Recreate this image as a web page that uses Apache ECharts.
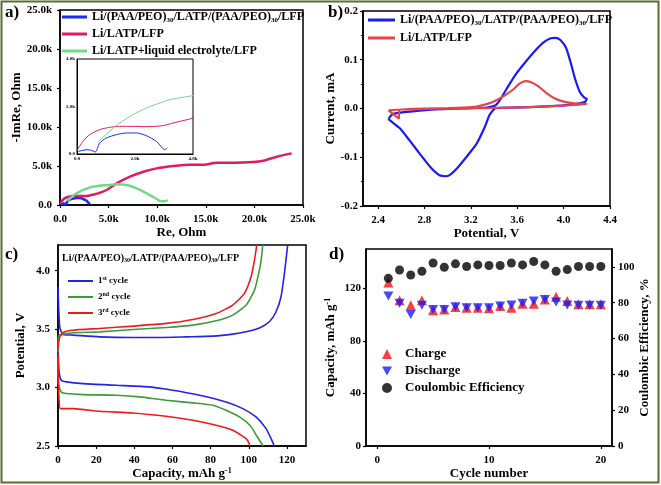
<!DOCTYPE html>
<html><head><meta charset="utf-8">
<script src="https://cdn.jsdelivr.net/npm/echarts@6/dist/echarts.min.js"></script>
<style>html,body{margin:0;padding:0;background:#fff}#c{width:661px;height:485px}</style>
</head><body><div id="c"></div><script>
// ---------- DATA ----------
// a) Nyquist plots [Re, -Im] in Ohm
const eisBlue = [[46,112],[207,154],[345,183],[494,154],[609,98],[640,90],[781,463],[1011,674],[1356,814],[1700,885],[2045,885],[2390,772],[2735,533],[2964,225],[3022,183],[3114,253]];
const eisRed = [[0,154],[207,533],[437,814],[781,1025],[1126,1123],[1471,1165],[1930,1165],[2390,1151],[2964,1193],[3309,1306],[3654,1404],[4000,1516],[4800,1921],[5831,2775],[7203,3630],[8575,4270],[9947,4697],[11662,4996],[13377,5167],[14749,5167],[16121,5423],[17836,5423],[19894,5508],[20923,5679],[22295,6192],[23839,6619]];
const eisGreen = [[747,533],[1126,955],[1471,1306],[1930,1657],[2390,1938],[2850,2148],[3194,2288],[3654,2387],[4000,2457],[4802,2540],[5831,2647],[6860,2562],[7889,2135],[8918,1494],[9947,769],[10290,512],[10805,480],[11079,640]];
const eisTicks = [0,5000,10000,15000,20000,25000];
const insetTicks = [0,2000,4000];
// b) CV [V, mA]
const cvBlue = [[2.49,-0.021],[2.53,-0.011],[2.70,-0.006],[2.90,-0.002],[3.13,0.000],[3.34,0.002],[3.41,0.006],[3.45,0.017],[3.51,0.041],[3.59,0.071],[3.68,0.098],[3.76,0.120],[3.83,0.136],[3.89,0.144],[3.93,0.145],[3.97,0.141],[4.02,0.125],[4.06,0.095],[4.10,0.060],[4.14,0.034],[4.18,0.022],[4.20,0.020],[4.18,0.013],[4.00,0.0065],[3.71,0.003],[3.42,0.001],[3.39,-0.004],[3.36,-0.014],[3.32,-0.038],[3.25,-0.072],[3.16,-0.100],[3.08,-0.123],[3.02,-0.136],[2.98,-0.139],[2.93,-0.137],[2.85,-0.120],[2.76,-0.093],[2.67,-0.065],[2.59,-0.041],[2.50,-0.024],[2.49,-0.021]];
const cvRed = [[2.49,-0.004],[2.60,-0.002],[2.80,0.000],[3.00,0.001],[3.13,0.002],[3.25,0.004],[3.35,0.010],[3.42,0.017],[3.50,0.028],[3.57,0.040],[3.62,0.051],[3.67,0.056],[3.72,0.054],[3.78,0.046],[3.85,0.032],[3.92,0.021],[4.00,0.014],[4.10,0.010],[4.20,0.009],[4.10,0.0075],[4.00,0.006],[3.70,0.003],[3.40,0.001],[3.10,0.000],[2.80,-0.001],[2.60,-0.002],[2.58,-0.004],[2.58,-0.021],[2.49,-0.004]];
const cvXTicks = [2.4,2.8,3.2,3.6,4.0,4.4];
// c) charge/discharge [mAh/g, V]
const c1Charge = [[0,3.86],[0.9,3.52],[2.6,3.454],[7.9,3.449],[21.8,3.434],[39.3,3.429],[53.2,3.429],[67.2,3.434],[81.2,3.44],[91.6,3.457],[98.6,3.477],[105.6,3.51],[110.8,3.563],[114.3,3.649],[116.9,3.777],[118.7,3.977],[119.9,4.149],[120.4,4.22]];
const c1Dis = [[0,3.434],[0.5,3.149],[1.7,3.063],[4.4,3.049],[13.1,3.034],[30.5,3.02],[48,3.006],[60.2,2.977],[74.2,2.934],[88.1,2.877],[96.9,2.82],[103.8,2.749],[109.1,2.649],[111.7,2.563],[113.4,2.5]];
const c2Charge = [[0,3.30],[0.5,3.449],[2.6,3.457],[7.9,3.469],[21.8,3.477],[39.3,3.497],[56.7,3.514],[70.7,3.534],[82.9,3.571],[91.6,3.62],[98.6,3.706],[103,3.834],[105.2,3.977],[106.5,4.09],[107.3,4.22]];
const c2Dis = [[0,3.26],[0.2,3.034],[1.7,2.963],[4.4,2.949],[13.1,2.94],[30.5,2.934],[42.8,2.92],[56.7,2.891],[70.7,2.869],[81.2,2.849],[88.1,2.806],[95.1,2.749],[100.6,2.677],[104.5,2.577],[107.5,2.5]];
const c3Charge = [[0,3.32],[0.9,3.434],[3.5,3.477],[7.9,3.491],[21.8,3.506],[39.3,3.526],[56.7,3.549],[70.7,3.583],[82.9,3.634],[91.6,3.706],[97.7,3.806],[101.2,3.949],[103,4.091],[104.2,4.22]];
const c3Dis = [[0,3.29],[0.5,2.92],[1.2,2.82],[4.4,2.82],[7.9,2.82],[21.8,2.797],[39.3,2.783],[56.7,2.754],[70.7,2.72],[82.9,2.677],[91.6,2.634],[98.6,2.563],[100.7,2.5]];
const capTicks = [0,20,40,60,80,100,120];
const volTicks = [2.5,3.0,3.5,4.0];
// d) cycling
const cycles = [1,2,3,4,5,6,7,8,9,10,11,12,13,14,15,16,17,18,19,20];
const chargeCap = [124.4,110.9,107.1,110.9,103.3,104.0,105.8,105.3,105.3,104.8,106.6,105.3,108.3,108.3,111.6,113.6,110.4,107.9,107.9,107.9];
const dischargeCap = [114.2,108.6,100.2,107.1,104.0,104.0,106.0,105.3,105.3,105.3,106.6,107.3,108.6,110.4,111.6,109.6,107.3,107.1,107.1,107.1];
const coulombic = [93.6,98.3,95.5,97.6,102.2,99.8,101.7,100.2,101.1,100.8,100.8,102.2,101.1,103.0,101.1,97.6,98.5,100.2,100.2,100.2];
const cycleTicks = [0,10,20];
const dCapTicks = [0,40,80,120];
const ceTicks = [0,20,40,60,80,100];

// ---------- CHART ----------
const F = '"Liberation Serif","Times New Roman",serif';
const subRich = {sub:{fontFamily:F,fontWeight:'bold',fontSize:7,padding:[6,0,0,0],color:'#000'}};
function axis(o){
  const a = {
    type:'value', gridIndex:o.g, min:o.min, max:o.max, position:o.pos,
    axisLine:{show:true,onZero:false,lineStyle:{color:'#000',width:1.5}},
    axisTick:{show:true,inside:false,length:3,lineStyle:{color:'#000',width:1.2}},
    splitLine:{show:false},
    axisLabel:{show:o.labels!==false,color:'#000',fontFamily:F,fontWeight:'bold',fontSize:o.fs||11,margin:o.margin||4,formatter:o.fmt},
    name:o.name||'', nameLocation:'middle', nameGap:o.gap||20,
    nameTextStyle:{color:'#000',fontFamily:F,fontWeight:'bold',fontSize:13,rich:{sup:{fontFamily:F,fontWeight:'bold',fontSize:8,padding:[0,0,6,0],color:'#000'}}}
  };
  if(o.ticks){a.axisLabel.customValues=o.ticks;a.axisTick.customValues=o.ticks;}
  if(o.interval){a.interval=o.interval;}
  if(o.minor){a.minorTick={show:true,splitNumber:o.minor,length:2,lineStyle:{color:'#000',width:1}};}
  return a;
}
const kfmt = v => v===0 ? '0.0' : (v/1000).toFixed(1)+'k';
const names = {
  a1:'Li/(PAA/PEO){sub|30}/LATP/(PAA/PEO){sub|30}/LFP', a2:'Li/LATP/LFP', a3:'Li/LATP+liquid electrolyte/LFP',
  b1:'Li/(PAA/PEO){sub|30}/LATP/(PAA/PEO){sub|30}/LFP', b2:'Li/LATP/LFP',
  c1:'1{sup|st} cycle', c2:'2{sup|nd} cycle', c3:'3{sup|rd} cycle',
  d1:'Charge', d2:'Discharge', d3:'Coulombic Efficiency'
};
const fmtName = n => names[n] || n;
function line(name,x,y,data,color,w,extra){
  return Object.assign({type:'line',name,xAxisIndex:x,yAxisIndex:y,data,showSymbol:false,symbol:'none',smooth:0.25,
    lineStyle:{color,width:w},itemStyle:{color},animation:false,z:3},extra||{});
}
const blueA='#1b2cf0', redA='#df1d5c', greenA='#74d88a';
const blueB='#1a1af2', redB='#e2454a';
const blueC='#2424e6', greenC='#3f9a3a', redC='#ec1c1c';
const downTri = 'path://M0,0 L10,0 L5,9 Z';

const option = {
  animation:false,
  backgroundColor:'#fff',
  grid:[
    {left:60,top:10,width:243,height:195,show:true,borderColor:'#000',borderWidth:1.5},
    {left:77,top:59,width:116,height:95,show:true,borderColor:'#000',borderWidth:1},
    {left:363,top:11,width:247,height:195,show:true,borderColor:'#000',borderWidth:1.5},
    {left:58,top:245,width:248,height:201,show:true,borderColor:'#000',borderWidth:1.5},
    {left:366,top:249,width:246,height:197,show:true,borderColor:'#000',borderWidth:1.5}
  ],
  xAxis:[
    axis({g:0,min:0,max:25000,interval:5000,fmt:kfmt,name:'Re, Ohm',gap:21,margin:9}),
    Object.assign(axis({g:1,min:0,max:4000,interval:2000,fmt:kfmt,fs:5,margin:2}),{axisTick:{show:false},axisLine:{show:true,onZero:false,lineStyle:{color:'#000',width:1}}}),
    axis({g:2,min:2.27,max:4.4,ticks:cvXTicks,fmt:v=>v.toFixed(1),name:'Potential, V',gap:21,margin:9}),
    axis({g:3,min:0,max:130,ticks:capTicks,fmt:v=>String(v),name:'Capacity, mAh g{sup|-1}',gap:18,margin:9}),
    axis({g:4,min:-1,max:21,ticks:cycleTicks,fmt:v=>String(v),name:'Cycle number',gap:18,margin:9})
  ],
  yAxis:[
    axis({g:0,min:0,max:25000,interval:5000,fmt:kfmt,name:'-ImRe, Ohm',gap:37,margin:8}),
    Object.assign(axis({g:1,min:0,max:4000,interval:2000,fmt:kfmt,fs:5,margin:2}),{axisTick:{show:false},axisLine:{show:true,onZero:false,lineStyle:{color:'#000',width:1}}}),
    axis({g:2,min:-0.2,max:0.2,interval:0.1,fmt:v=>(Math.abs(v)<1e-9?'0.0':v.toFixed(1)),name:'Current, mA',gap:25,minor:2,margin:5}),
    axis({g:3,min:2.5,max:4.22,ticks:volTicks,fmt:v=>v.toFixed(1),name:'Potential, V',gap:31,margin:8}),
    axis({g:4,min:0,max:150,ticks:dCapTicks,fmt:v=>String(v),name:'Capacity, mAh g{sup|-1}',gap:28,margin:5}),
    axis({g:4,min:0,max:110,ticks:ceTicks,pos:'right',fmt:v=>String(v),name:'Coulombic Efficiency, %',gap:24,margin:6})
  ],
  legend:[
    {orient:'vertical',left:62,top:10,padding:0,itemWidth:25,itemHeight:3,itemGap:3,icon:'rect',data:['a1','a2','a3'],formatter:fmtName,
     textStyle:{fontFamily:F,fontWeight:'bold',fontSize:12,color:'#000',lineHeight:14,rich:subRich},selectedMode:false},
    {orient:'vertical',left:368,top:13,padding:0,itemWidth:27,itemHeight:3,itemGap:4,icon:'rect',data:['b1','b2'],formatter:fmtName,
     textStyle:{fontFamily:F,fontWeight:'bold',fontSize:12,color:'#000',lineHeight:14,rich:subRich},selectedMode:false},
    {orient:'vertical',left:68,top:275,padding:0,itemWidth:25,itemHeight:2,itemGap:4,icon:'rect',data:['c1','c2','c3'],formatter:fmtName,
     textStyle:{fontFamily:F,fontWeight:'bold',fontSize:9,color:'#000',lineHeight:12,rich:{sup:{fontFamily:F,fontWeight:'bold',fontSize:6,padding:[0,0,5,0],color:'#000'}}},selectedMode:false},
    {orient:'vertical',left:382,top:347,padding:0,itemWidth:10,itemHeight:10,itemGap:3,data:[{name:'d1',icon:'triangle'},{name:'d2',icon:downTri},{name:'d3',icon:'circle'}],formatter:fmtName,
     textStyle:{fontFamily:F,fontWeight:'bold',fontSize:13,color:'#000',lineHeight:14,padding:[0,0,0,8]},selectedMode:false}
  ],
  title:[
    {text:'Li/(PAA/PEO){s|30}/LATP/(PAA/PEO){s|30}/LFP',left:62,top:253,padding:0,
     textStyle:{fontFamily:F,fontWeight:'bold',fontSize:10,color:'#000',rich:{s:{fontFamily:F,fontWeight:'bold',fontSize:6,padding:[4,0,0,0],color:'#000'}}}}
  ],
  graphic:[
    {type:'rect',shape:{x:1.5,y:1.5,width:657,height:481},style:{fill:'none',stroke:'#56702f',lineWidth:2},silent:true},
    {type:'text',left:5,top:4,style:{text:'a)',font:'bold 17px '+F,fill:'#000'}},
    {type:'text',left:328,top:4,style:{text:'b)',font:'bold 17px '+F,fill:'#000'}},
    {type:'text',left:5,top:246,style:{text:'c)',font:'bold 17px '+F,fill:'#000'}},
    {type:'text',left:329,top:246,style:{text:'d)',font:'bold 17px '+F,fill:'#000'}}
  ],
  series:[
    line('a1',0,0,eisBlue,blueA,2.5),
    line('a2',0,0,eisRed,redA,2.5),
    line('a3',0,0,eisGreen,greenA,2.5),
    line('ia1',1,1,eisBlue,blueA,1,{legendHoverLink:false}),
    line('ia2',1,1,eisRed,redA,1),
    line('ia3',1,1,eisGreen,greenA,1),
    line('b1',2,2,cvBlue,blueB,2.2,{smooth:0.2}),
    line('b2',2,2,cvRed,redB,2.2,{smooth:0.2}),
    line('c1',3,3,c1Charge.concat([[null,null]],c1Dis),blueC,1.6,{connectNulls:false,smooth:0.2}),
    line('c2',3,3,c2Charge.concat([[null,null]],c2Dis),greenC,1.6,{connectNulls:false,smooth:0.2}),
    line('c3',3,3,c3Charge.concat([[null,null]],c3Dis),redC,1.6,{connectNulls:false,smooth:0.2}),
    {type:'scatter',name:'d1',xAxisIndex:4,yAxisIndex:4,symbol:'triangle',symbolSize:10,itemStyle:{color:'#ee1111'},data:cycles.map((c,i)=>[c,chargeCap[i]]),z:3},
    {type:'scatter',name:'d2',xAxisIndex:4,yAxisIndex:4,symbol:downTri,symbolSize:[10,9],itemStyle:{color:'#1a1aff'},data:cycles.map((c,i)=>[c,dischargeCap[i]]),z:4},
    {type:'scatter',name:'d3',xAxisIndex:4,yAxisIndex:5,symbol:'circle',symbolSize:9,itemStyle:{color:'#000'},data:cycles.map((c,i)=>[c,coulombic[i]]),z:4}
  ]
};
const chart = echarts.init(document.getElementById('c'),null,{renderer:'canvas'});
chart.setOption(option);
</script></body></html>
